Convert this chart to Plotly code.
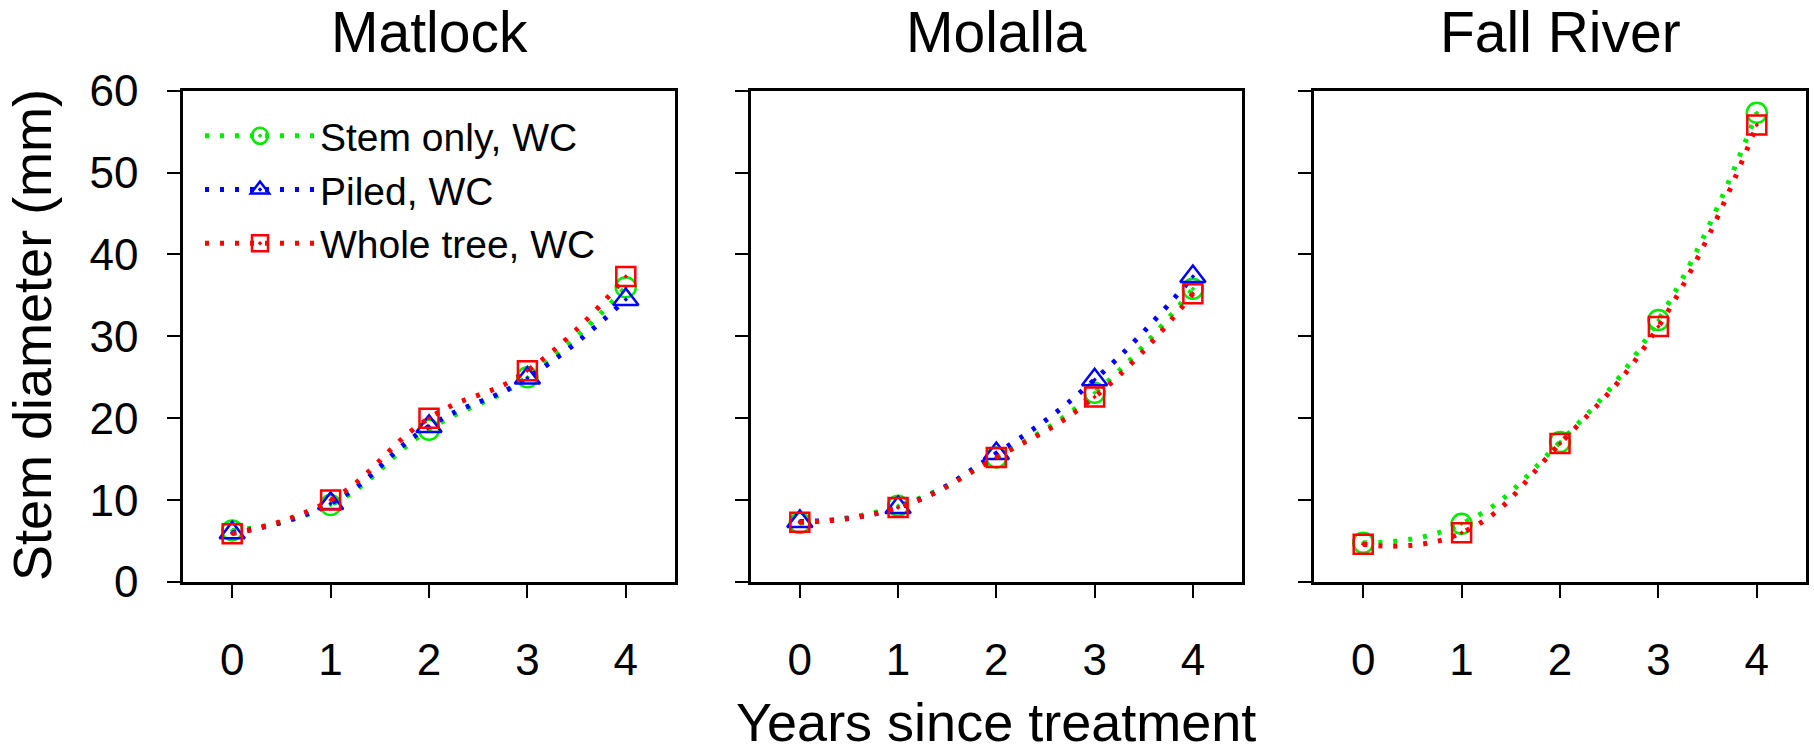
import plotly.graph_objects as go

# Stem diameter (mm) by years since treatment, per site and treatment
years = [0, 1, 2, 3, 4]
sites = ["Matlock", "Molalla", "Fall River"]

matlock_stem_only = [6.3, 9.4, 18.6, 25.0, 36.0]
matlock_piled = [6.0, 9.6, 19.0, 24.9, 34.5]
matlock_whole_tree = [5.9, 10.0, 20.0, 25.8, 37.3]

molalla_stem_only = [7.2, 9.3, 15.2, 23.1, 35.8]
molalla_piled = [7.4, 9.1, 15.7, 24.7, 37.3]
molalla_whole_tree = [7.3, 9.1, 15.2, 22.6, 35.2]

fall_river_stem_only = [4.8, 7.1, 17.1, 32.0, 57.3]
fall_river_whole_tree = [4.6, 6.0, 16.9, 31.2, 55.8]

treatments = ["Stem only, WC", "Piled, WC", "Whole tree, WC"]
colors = ["rgb(0,235,0)", "rgb(0,0,255)", "rgb(255,0,0)"]
symbols = ["circle-open-dot", "triangle-up-open-dot", "square-open-dot"]
marker_sizes = [20, 22, 19]

site_series = [
    [matlock_stem_only, matlock_piled, matlock_whole_tree],
    [molalla_stem_only, molalla_piled, molalla_whole_tree],
    [fall_river_stem_only, None, fall_river_whole_tree],
]

FONT = "Liberation Sans, Arial, sans-serif"
W, H = 1814, 755
x_domains = [[183 / W, 675 / W], [750.7 / W, 1242 / W], [1314 / W, 1806 / W]]
y_domain = [1 - 582 / H, 1 - 90.7 / H]

fig = go.Figure()

for i, series in enumerate(site_series):
    xa = "x" if i == 0 else f"x{i + 1}"
    ya = "y" if i == 0 else f"y{i + 1}"
    for j, vals in enumerate(series):
        if vals is None:
            continue
        fig.add_trace(go.Scatter(
            x=years, y=vals, xaxis=xa, yaxis=ya,
            mode="lines+markers",
            name=treatments[j],
            legendgroup=treatments[j],
            showlegend=(i == 0),
            line=dict(color=colors[j], width=5, dash="4px,11px",
                      shape="spline", smoothing=1.3),
            marker=dict(symbol=symbols[j], size=marker_sizes[j], color=colors[j],
                        line=dict(color=colors[j], width=2.5)),
        ))

axis_common = dict(
    showline=True, linecolor="black", linewidth=2.5, mirror=True,
    ticks="outside", ticklen=13, tickwidth=2, tickcolor="black",
    showgrid=False, zeroline=False, automargin=False,
    tickfont=dict(family=FONT, size=44, color="black"),
)

layout = dict(
    template="none",
    width=W, height=H,
    margin=dict(l=0, r=0, t=0, b=0, pad=0, autoexpand=False),
    paper_bgcolor="white", plot_bgcolor="white",
    font=dict(family=FONT, color="black"),
    showlegend=True,
    legend=dict(
        x=200 / W, y=1 - 104 / H, xanchor="left", yanchor="top",
        font=dict(family=FONT, size=39, color="black"),
        bgcolor="rgba(0,0,0,0)", itemsizing="trace", tracegroupgap=0,
        itemwidth=110,
    ),
)

for i in range(3):
    xk = "xaxis" if i == 0 else f"xaxis{i + 1}"
    yk = "yaxis" if i == 0 else f"yaxis{i + 1}"
    layout[xk] = dict(axis_common, domain=x_domains[i], range=[-0.5, 4.5],
                      tickvals=years, ticklabelstandoff=24,
                      anchor="y" if i == 0 else f"y{i + 1}")
    layout[yk] = dict(axis_common, domain=y_domain, range=[0, 60],
                      tickvals=[0, 10, 20, 30, 40, 50, 60],
                      showticklabels=(i == 0), ticklabelstandoff=20,
                      anchor="x" if i == 0 else f"x{i + 1}")

annotations = []
for i, site in enumerate(sites):
    annotations.append(dict(
        text=site, xref="paper", yref="paper",
        x=sum(x_domains[i]) / 2, y=1 - 32 / H,
        xanchor="center", yanchor="middle", showarrow=False,
        font=dict(family=FONT, size=57, color="black"),
    ))
annotations.append(dict(
    text="Years since treatment", xref="paper", yref="paper",
    x=sum(x_domains[1]) / 2, y=1 - 722 / H,
    xanchor="center", yanchor="middle", showarrow=False,
    font=dict(family=FONT, size=54, color="black"),
))
annotations.append(dict(
    text="Stem diameter (mm)", xref="paper", yref="paper",
    x=32 / W, y=1 - 335 / H, textangle=-90,
    xanchor="center", yanchor="middle", showarrow=False,
    font=dict(family=FONT, size=54, color="black"),
))
layout["annotations"] = annotations

fig.update_layout(**layout)
fig.write_html("out.html")
